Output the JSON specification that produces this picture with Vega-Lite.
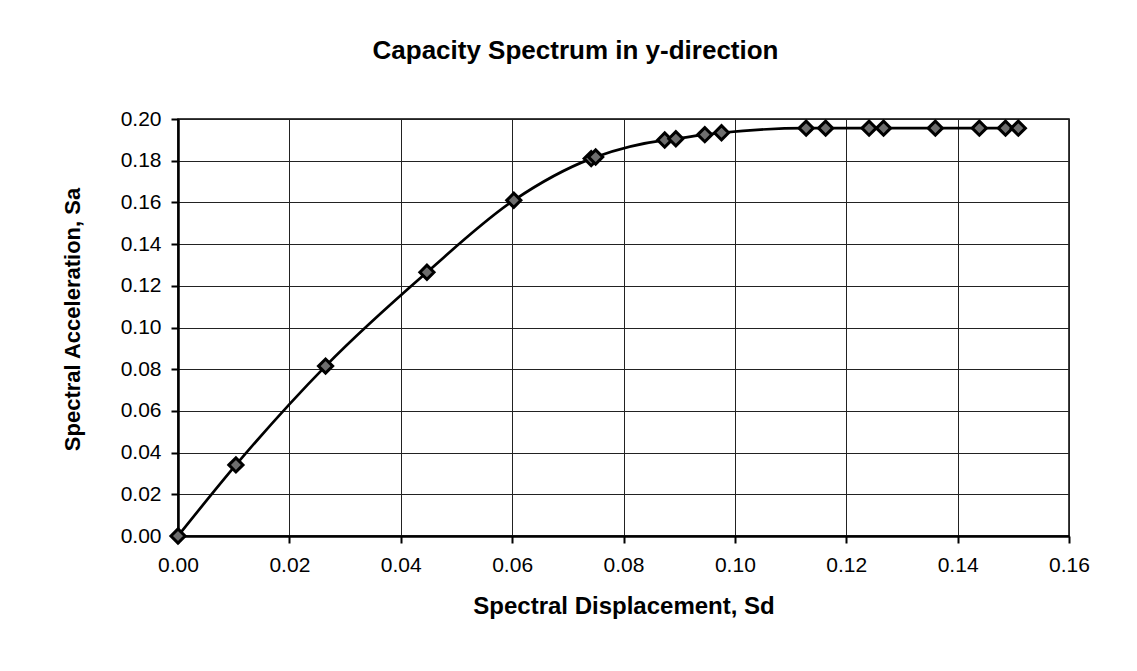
{
  "$schema": "https://vega.github.io/schema/vega-lite/v6.json",
  "width": 891,
  "height": 417,
  "autosize": {"type": "none"},
  "padding": {"left": 178, "top": 119, "right": 68, "bottom": 135},
  "background": "white",
  "title": {
    "text": "Capacity Spectrum in y-direction",
    "font": "Liberation Sans",
    "fontSize": 26,
    "fontWeight": "bold",
    "color": "#000",
    "anchor": "middle",
    "frame": "group",
    "offset": 44,
    "dx": -48
  },
  "data": {
    "values": [
      {"Sd": 0.0, "Sa": 0.0},
      {"Sd": 0.0104, "Sa": 0.0341},
      {"Sd": 0.0265, "Sa": 0.0815},
      {"Sd": 0.0447, "Sa": 0.1265},
      {"Sd": 0.0603, "Sa": 0.1610},
      {"Sd": 0.0742, "Sa": 0.1810},
      {"Sd": 0.0750, "Sa": 0.1818},
      {"Sd": 0.0874, "Sa": 0.1899},
      {"Sd": 0.0894, "Sa": 0.1905},
      {"Sd": 0.0946, "Sa": 0.1925},
      {"Sd": 0.0976, "Sa": 0.1934},
      {"Sd": 0.1128, "Sa": 0.1956},
      {"Sd": 0.1163, "Sa": 0.1956},
      {"Sd": 0.1241, "Sa": 0.1956},
      {"Sd": 0.1267, "Sa": 0.1956},
      {"Sd": 0.1360, "Sa": 0.1956},
      {"Sd": 0.1439, "Sa": 0.1956},
      {"Sd": 0.1486, "Sa": 0.1956},
      {"Sd": 0.1509, "Sa": 0.1956}
    ]
  },
  "encoding": {
    "x": {
      "field": "Sd",
      "type": "quantitative",
      "scale": {"domain": [0, 0.16], "nice": false, "zero": false},
      "axis": {
        "title": "Spectral Displacement, Sd",
        "values": [0, 0.02, 0.04, 0.06, 0.08, 0.1, 0.12, 0.14, 0.16],
        "format": ".2f",
        "labelFlush": false,
        "labelPadding": 11,
        "titlePadding": 19,
        "titleFontSize": 24
      }
    },
    "y": {
      "field": "Sa",
      "type": "quantitative",
      "scale": {"domain": [0, 0.2], "nice": false, "zero": false},
      "axis": {
        "title": "Spectral Acceleration, Sa",
        "values": [0, 0.02, 0.04, 0.06, 0.08, 0.1, 0.12, 0.14, 0.16, 0.18, 0.2],
        "format": ".2f",
        "labelFlush": false,
        "labelPadding": 10,
        "titlePadding": 36,
        "titleFontSize": 22,
        "titleY": 200
      }
    }
  },
  "layer": [
    {
      "mark": {"type": "line", "interpolate": "monotone", "color": "#000", "strokeWidth": 2.7}
    },
    {
      "mark": {
        "type": "point",
        "shape": "diamond",
        "size": 200,
        "filled": true,
        "fill": "#6e6e6e",
        "stroke": "#000",
        "strokeWidth": 3,
        "opacity": 1
      }
    }
  ],
  "config": {
    "view": {"stroke": "#000", "strokeWidth": 1.5},
    "axis": {
      "domainColor": "#000",
      "domainWidth": 2.5,
      "gridColor": "#222",
      "gridWidth": 1,
      "gridOpacity": 1,
      "tickColor": "#000",
      "tickWidth": 2,
      "tickSize": 7,
      "labelFont": "Liberation Sans",
      "labelFontSize": 21,
      "labelColor": "#000",
      "titleFont": "Liberation Sans",
      "titleFontWeight": "bold",
      "titleColor": "#000"
    }
  }
}
